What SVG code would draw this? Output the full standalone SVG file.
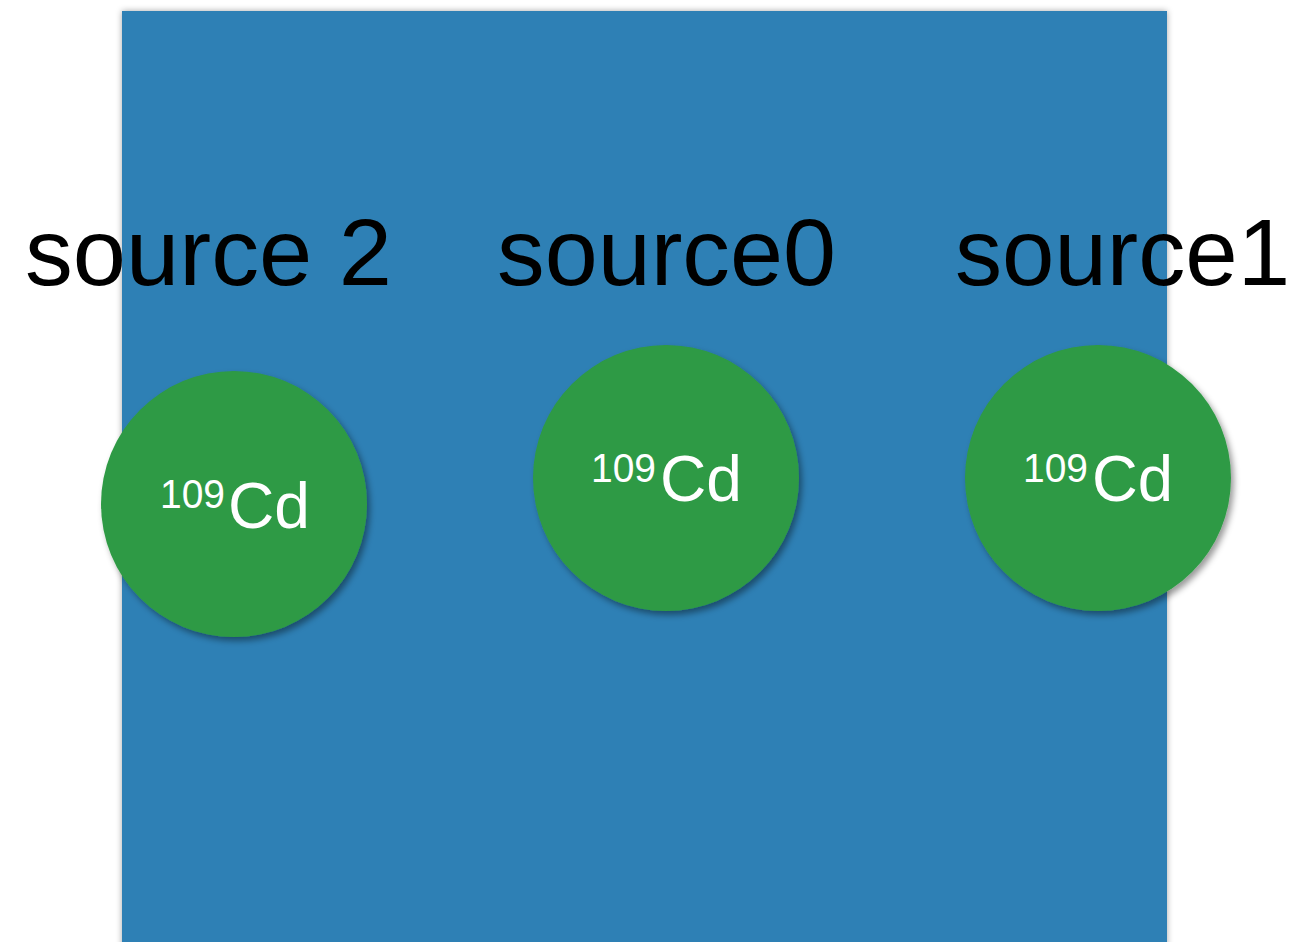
<svg xmlns="http://www.w3.org/2000/svg" width="1296" height="942" viewBox="0 0 1296 942">
<defs>
<filter id="rshadow" x="-5%" y="-5%" width="110%" height="110%">
<feDropShadow dx="0" dy="0" stdDeviation="3" flood-color="#000" flood-opacity="0.35"/>
</filter>
<filter id="cshadow" x="-10%" y="-10%" width="125%" height="125%">
<feDropShadow dx="3" dy="4" stdDeviation="3" flood-color="#000" flood-opacity="0.4"/>
</filter>
<style>
.lbl{font-family:"Liberation Sans",Arial,sans-serif;font-size:94px;fill:#000;}
.iso{font-family:"Liberation Sans",Arial,sans-serif;fill:#fff;}
.circ{fill:#2e9a44;filter:url(#cshadow);}
</style>
</defs>
<rect width="1296" height="942" fill="#fff"/>
<rect id="plate" x="122" y="11" width="1045" height="940" fill="#2e80b5" filter="url(#rshadow)"/>
<g id="label-source2"><text class="lbl" x="25" y="285" textLength="367" lengthAdjust="spacingAndGlyphs">source 2</text></g>
<g id="label-source0"><text class="lbl" x="497" y="285" textLength="339" lengthAdjust="spacingAndGlyphs">source0</text></g>
<g id="label-source1"><text class="lbl" x="955" y="285" textLength="335" lengthAdjust="spacingAndGlyphs">source1</text></g>
<g id="source2">
<circle class="circ" cx="234" cy="504" r="133"/>
<text class="iso" x="160" y="508" font-size="40" textLength="65" lengthAdjust="spacingAndGlyphs">109</text>
<text class="iso" x="228" y="528" font-size="64" textLength="82" lengthAdjust="spacingAndGlyphs">Cd</text>
</g>
<g id="source0">
<circle class="circ" cx="666" cy="478" r="133"/>
<text class="iso" x="591" y="482" font-size="40" textLength="65" lengthAdjust="spacingAndGlyphs">109</text>
<text class="iso" x="660" y="501" font-size="64" textLength="82" lengthAdjust="spacingAndGlyphs">Cd</text>
</g>
<g id="source1">
<circle class="circ" cx="1098" cy="478" r="133"/>
<text class="iso" x="1023" y="482" font-size="40" textLength="65" lengthAdjust="spacingAndGlyphs">109</text>
<text class="iso" x="1092" y="501" font-size="64" textLength="81" lengthAdjust="spacingAndGlyphs">Cd</text>
</g>
</svg>
